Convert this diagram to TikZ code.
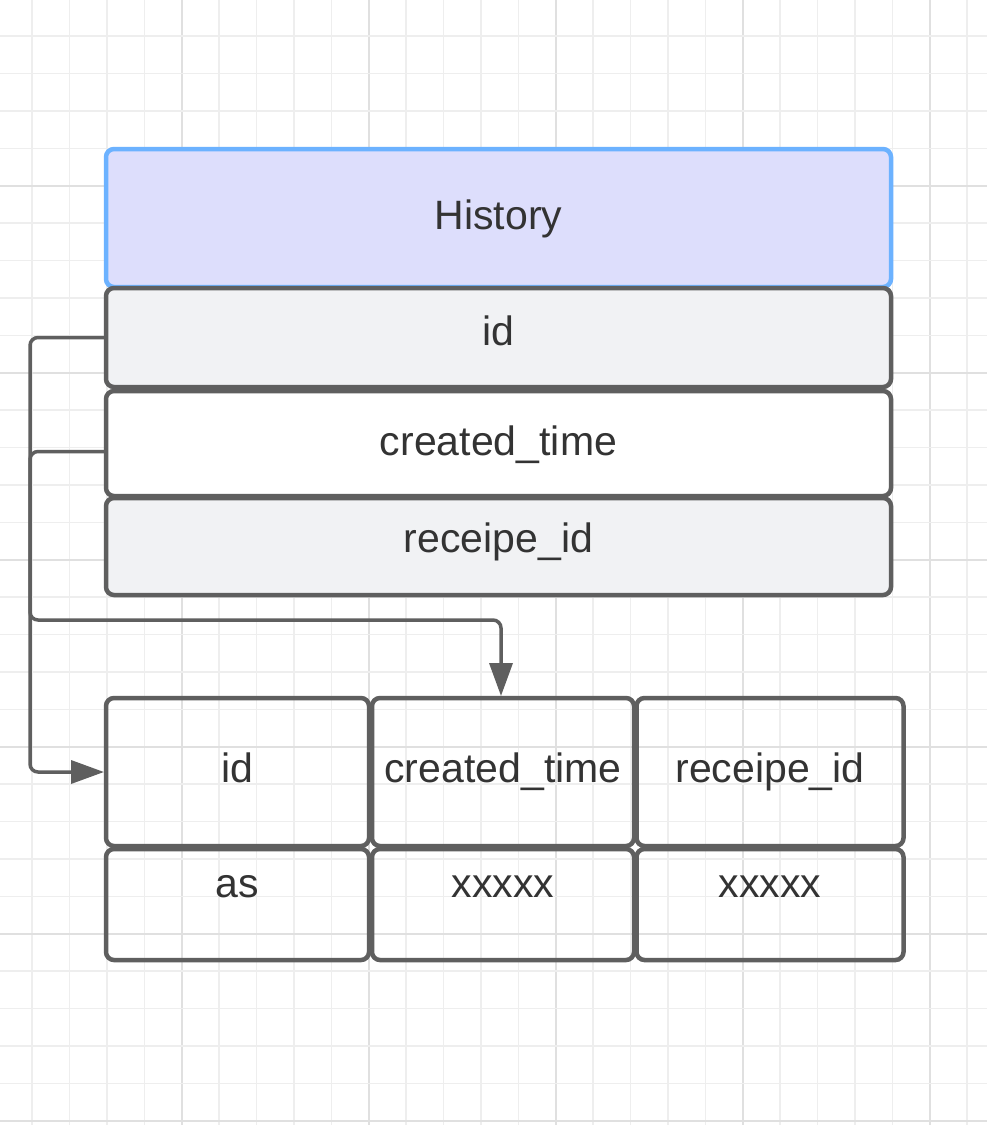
\documentclass[tikz,border=0pt]{standalone}
\usepackage{fontspec}
\setmainfont{Liberation Sans}
\usetikzlibrary{arrows.meta}
\definecolor{gridminor}{HTML}{EEEEEE}
\definecolor{gridmajor}{HTML}{E0E0E0}
\definecolor{edge}{HTML}{5F5F5F}
\definecolor{hdrblue}{HTML}{6CB2FF}
\definecolor{hdrfill}{HTML}{DDDEFC}
\definecolor{rowgray}{HTML}{F1F2F4}
\definecolor{txt}{HTML}{333333}
\tikzset{
  cell/.style={draw=edge, line width=4.5pt, rounded corners=8pt, inner sep=0pt, outer sep=0pt,
    anchor=base, text=txt, font=\fontsize{41}{49}\selectfont},
  hdrcell/.style={cell, draw=hdrblue, fill=hdrfill},
  conn/.style={draw=edge, line width=3.5pt, rounded corners=8pt, -{Triangle[length=33pt,width=23pt]}},
}
\begin{document}
\begin{tikzpicture}[x=1pt,y=-1pt]
\useasboundingbox (0,0) rectangle (987,1125);
\fill[white] (0,0) rectangle (987,1125);
% grid
\foreach \k in {-4,...,21} {
  \pgfmathsetmacro{\xx}{181.7+37.4*\k}
  \pgfmathtruncatemacro{\m}{mod(\k+20,5)}
  \ifnum\m=0
    \draw[gridmajor, line width=2pt] (\xx,0) -- (\xx,1125);
  \else
    \draw[gridminor, line width=1.5pt] (\xx,0) -- (\xx,1125);
  \fi
}
\foreach \k in {-4,...,25} {
  \pgfmathsetmacro{\yy}{185.7+37.4*\k}
  \pgfmathtruncatemacro{\m}{mod(\k+20,5)}
  \ifnum\m=0
    \draw[gridmajor, line width=2pt] (0,\yy) -- (987,\yy);
  \else
    \draw[gridminor, line width=1.5pt] (0,\yy) -- (987,\yy);
  \fi
}
% upper entity
\node[hdrcell, minimum width=785pt, text height=80pt, text depth=58pt] (hdr) at (498.5,229) {History};
\node[cell, fill=rowgray, minimum width=785pt, text height=57pt, text depth=42pt] (idrow) at (498.5,345) {id};
\node[cell, fill=white, minimum width=785pt, text height=64pt, text depth=41pt] (ctrow) at (498.5,455) {created\_time};
\node[cell, fill=rowgray, minimum width=785pt, text height=54pt, text depth=43pt] (rirow) at (498.5,552) {receipe\_id};
% lower table
\node[cell, minimum width=263pt, text height=84pt, text depth=64pt] (c11) at (237.5,782) {id};
\node[cell, minimum width=263pt, text height=48pt, text depth=63pt] (c21) at (237.5,897) {as};
\node[cell, minimum width=262pt, text height=84pt, text depth=64pt] (c12) at (503,782) {created\_time};
\node[cell, minimum width=262pt, text height=48pt, text depth=63pt] (c22) at (503,897) {xxxxx};
\node[cell, minimum width=267pt, text height=84pt, text depth=64pt] (c13) at (770,782) {receipe\_id};
\node[cell, minimum width=267pt, text height=48pt, text depth=63pt] (c23) at (770,897) {xxxxx};
% connectors
\coordinate (bus) at (30,0);
\coordinate (ctout) at ([yshift=-8pt]ctrow.west);
\coordinate (turn) at (30,620);
\coordinate (ctin) at ([xshift=-2pt,yshift=2pt]c12.north);
\coordinate (idin) at ([xshift=-2pt]c11.west);
\draw[conn] (idrow.west) -- (idrow.west -| bus) -- (idin -| bus) -- (idin);
\draw[conn] (ctout) -- (ctout -| bus) -- (turn) -- (turn -| ctin) -- (ctin);
\end{tikzpicture}
\end{document}
